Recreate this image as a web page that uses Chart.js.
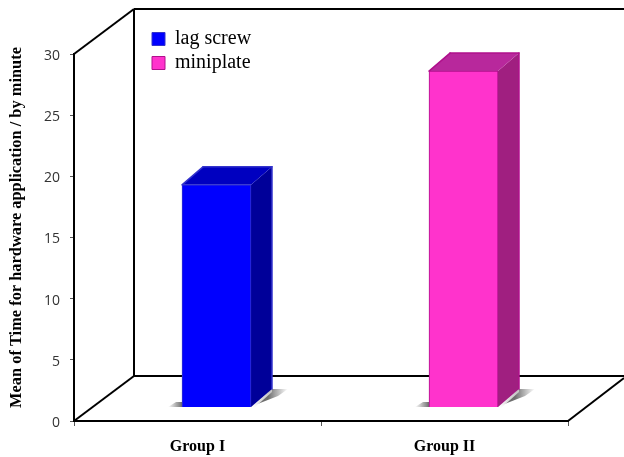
<!DOCTYPE html>
<html>
<head>
<meta charset="utf-8">
<style>
  html, body { margin: 0; padding: 0; background: #fff; }
  canvas { display: block; }
</style>
<script src="https://cdn.jsdelivr.net/npm/chart.js@4"></script>
</head>
<body>
<canvas id="chart" width="624" height="457"></canvas>
<script>
const categories = ["Group I", "Group II"];
const lagScrew = [18.2, null];
const miniplate = [null, 27.5];
const yTicks = [0, 5, 10, 15, 20, 25, 30];
const yTitle = "Mean of Time for hardware application / by minute";

// colours of the faces: front, edge, top, side
const blueFaces = { front: "#0000ff", edge: "#3333cc", top: "#0000c0", side: "#000099" };
const pinkFaces = { front: "#ff33cc", edge: "#b0108c", top: "#b8289c", side: "#a01f80" };

// the walls of the fake 3D box
const wallDX = 60;
const wallDY = -45;
// how far the bars sit inside the box
const barShiftX = 19;
const barShiftY = -13.5;
const barDX = 21;
const barDY = -18;

function line(ctx, x1, y1, x2, y2) {
  ctx.beginPath();
  ctx.moveTo(x1, y1);
  ctx.lineTo(x2, y2);
  ctx.stroke();
}

function poly(ctx, pts, fill) {
  ctx.beginPath();
  ctx.moveTo(pts[0][0], pts[0][1]);
  for (let i = 1; i < pts.length; i++) ctx.lineTo(pts[i][0], pts[i][1]);
  ctx.closePath();
  ctx.fillStyle = fill;
  ctx.fill();
}

// back wall and floor
const boxPlugin = {
  id: "box",
  beforeDatasetsDraw(chart) {
    const ctx = chart.ctx;
    const a = chart.chartArea;
    const w = chart.width;
    ctx.save();
    ctx.strokeStyle = "#000";
    ctx.lineWidth = 2;
    line(ctx, a.left, a.top, a.left + wallDX, a.top + wallDY);
    line(ctx, a.left, a.bottom, a.left + wallDX, a.bottom + wallDY);
    line(ctx, a.left + wallDX, a.top + wallDY, a.left + wallDX, a.bottom + wallDY);
    line(ctx, a.left + wallDX, a.top + wallDY, w, a.top + wallDY);
    line(ctx, a.left + wallDX, a.bottom + wallDY, w, a.bottom + wallDY);
    line(ctx, a.right, a.bottom, w, a.bottom - 43);
    ctx.restore();
  },
};

// moves the bars back into the box and adds shadow, top and side faces
const barPlugin = {
  id: "bar3d",
  beforeDatasetDraw(chart, args) {
    const ctx = chart.ctx;
    const faces = args.index === 0 ? blueFaces : pinkFaces;
    const values = chart.data.datasets[args.index].data;
    ctx.save();
    ctx.translate(barShiftX, barShiftY);
    args.meta.data.forEach(function (bar, i) {
      if (values[i] == null) return;
      const l = bar.x - bar.width / 2;
      const r = bar.x + bar.width / 2;
      const t = bar.y;
      const b = bar.base;

      // shadow on the floor
      let g = ctx.createLinearGradient(l - 14, 0, l, 0);
      g.addColorStop(0, "rgba(120,120,120,0)");
      g.addColorStop(1, "rgba(110,110,110,1)");
      poly(ctx, [[l - 14, b], [l - 6, b - 5], [l, b - 5], [l, b]], g);
      g = ctx.createLinearGradient(r + barDX - 4, 0, r + barDX + 16, 0);
      g.addColorStop(0, "rgba(110,110,110,1)");
      g.addColorStop(1, "rgba(120,120,120,0)");
      poly(ctx, [[r + 4, b - 2], [r + barDX, b + barDY], [r + barDX + 16, b + barDY], [r + barDX + 6, b + barDY + 7]], g);
      g = ctx.createLinearGradient(r, b, r + barDX, b + barDY);
      g.addColorStop(0, "rgba(255,255,255,0.9)");
      g.addColorStop(1, "rgba(200,200,200,0.9)");
      poly(ctx, [[r, b], [r + barDX, b + barDY], [r + barDX, b + barDY + 3], [r + 3, b + 1]], g);

      // side and top
      poly(ctx, [[r, t], [r + barDX, t + barDY], [r + barDX, b + barDY], [r, b]], faces.side);
      poly(ctx, [[l, t], [l + barDX, t + barDY], [r + barDX, t + barDY], [r, t]], faces.top);
      ctx.strokeStyle = faces.edge;
      ctx.lineWidth = 1.5;
      ctx.lineJoin = "round";
      ctx.lineCap = "round";
      line(ctx, l + barDX, t + barDY, r + barDX, t + barDY);
      line(ctx, r + barDX, t + barDY, r + barDX, b + barDY);
      line(ctx, l, t, l + barDX, t + barDY);
    });
  },
  afterDatasetDraw(chart) {
    chart.ctx.restore();
  },
};

// puts the legend inside the back wall, and draws the axis title a bit above centre
const extrasPlugin = {
  id: "extras",
  afterLayout(chart) {
    const lg = chart.legend;
    lg.left = 148;
    lg.top = 25;
    lg.right = 300;
    lg.bottom = 80;
  },
  afterDraw(chart) {
    const ctx = chart.ctx;
    ctx.save();
    ctx.translate(17, 227.5);
    ctx.rotate(-Math.PI / 2);
    ctx.font = "bold 16.4px 'Liberation Serif'";
    ctx.fillStyle = "#000";
    ctx.textAlign = "center";
    ctx.textBaseline = "middle";
    ctx.fillText(yTitle, 0, 0);
    ctx.restore();
  },
};

new Chart(document.getElementById("chart"), {
  type: "bar",
  data: {
    labels: categories,
    datasets: [
      {
        label: "lag screw",
        data: lagScrew,
        backgroundColor: blueFaces.front,
        borderColor: blueFaces.edge,
        borderWidth: 1,
        barThickness: 69,
      },
      {
        label: "miniplate",
        data: miniplate,
        backgroundColor: pinkFaces.front,
        borderColor: pinkFaces.edge,
        borderWidth: 1,
        barThickness: 69,
      },
    ],
  },
  options: {
    responsive: false,
    animation: false,
    layout: { padding: { top: 54, right: 56, left: 0, bottom: 0 } },
    plugins: {
      tooltip: { enabled: false },
      legend: {
        position: "chartArea",
        align: "start",
        labels: {
          boxWidth: 13,
          boxHeight: 13,
          padding: 4,
          color: "#000",
          font: { family: "Liberation Serif", size: 20 },
        },
      },
    },
    scales: {
      x: {
        stacked: true,
        afterFit(scale) {
          scale.height = 36;
        },
        border: { color: "#000", width: 2 },
        grid: { drawOnChartArea: false, color: "#555", tickLength: 5 },
        ticks: {
          color: "#000",
          padding: 11,
          maxRotation: 0,
          font: { family: "Liberation Serif", size: 16, weight: "bold" },
        },
      },
      y: {
        stacked: true,
        min: 0,
        max: 30,
        afterFit(scale) {
          scale.width = 74;
        },
        afterBuildTicks(scale) {
          scale.ticks = yTicks.map(function (v) {
            return { value: v };
          });
        },
        border: { color: "#000", width: 2 },
        grid: { drawOnChartArea: false, color: "#555", tickLength: 4 },
        ticks: {
          color: "#333",
          padding: 10,
          labelOffset: 2,
          font: { family: "Open Sans", size: 14 },
        },
      },
    },
  },
  plugins: [boxPlugin, barPlugin, extrasPlugin],
});
</script>
</body>
</html>
